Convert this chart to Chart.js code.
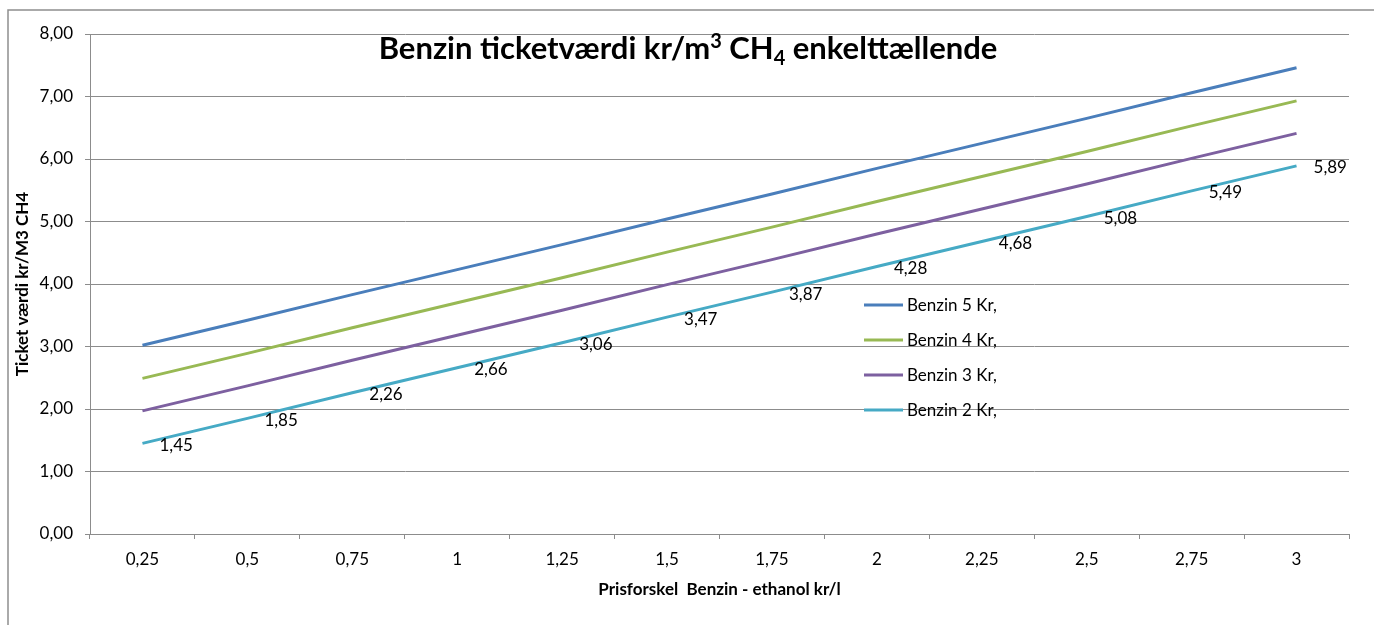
<!DOCTYPE html>
<html>
<head>
<meta charset="utf-8">
<script src="https://cdn.jsdelivr.net/npm/chart.js@4"></script>
<style>
    html, body { margin: 0; padding: 0; background: #fff; }
    #wrap { position: relative; width: 1374px; height: 625px; }
</style>
</head>
<body>
<div id="wrap"><canvas id="ticketChart"></canvas></div>
<script>
// Prisforskel Benzin - ethanol kr/l
const categories = ['0,25', '0,5', '0,75', '1', '1,25', '1,5', '1,75', '2', '2,25', '2,5', '2,75', '3'];

// Ticket værdi kr/M3 CH4 per series
const benzin5 = [3.02, 3.42, 3.83, 4.23, 4.63, 5.04, 5.44, 5.85, 6.25, 6.65, 7.06, 7.46];
const benzin4 = [2.49, 2.89, 3.30, 3.70, 4.10, 4.51, 4.91, 5.32, 5.72, 6.12, 6.53, 6.93];
const benzin3 = [1.97, 2.37, 2.78, 3.18, 3.58, 3.99, 4.39, 4.80, 5.20, 5.60, 6.01, 6.41];
const benzin2 = [1.45, 1.85, 2.26, 2.66, 3.06, 3.47, 3.87, 4.28, 4.68, 5.08, 5.49, 5.89];

const seriesNames = ['Benzin 5 Kr,', 'Benzin 4 Kr,', 'Benzin 3 Kr,', 'Benzin 2 Kr,'];
const seriesColors = ['#4a7ebb', '#98b954', '#7d60a0', '#46aac5'];

const yTicks = { min: 0, max: 8, step: 1 };

const FONT = 'Lato, "Open Sans", sans-serif';
const GRID = '#8c8c8c';

function comma(v, digits) {
    return v.toFixed(digits).replace('.', ',');
}

// frame + title drawn straight on the canvas (title sits inside the plot area)
const decorPlugin = {
    id: 'decor',
    beforeDraw(chart) {
        const ctx = chart.ctx;
        ctx.save();
        ctx.strokeStyle = '#8f8f8f';
        ctx.lineWidth = 1.5;
        ctx.beginPath();
        ctx.moveTo(8, chart.height);
        ctx.lineTo(8, 10);
        ctx.lineTo(chart.width, 10);
        ctx.stroke();
        ctx.restore();
    },
    afterDraw(chart) {
        const ctx = chart.ctx;
        ctx.save();
        ctx.fillStyle = '#000';
        ctx.textBaseline = 'alphabetic';
        const big = 'bold 31px ' + FONT;
        const small = 'bold 20px ' + FONT;
        const parts = [
            { t: 'Benzin ticketværdi kr/m', f: big, dy: 0 },
            { t: '3', f: small, dy: -11 },
            { t: ' CH', f: big, dy: 0 },
            { t: '4', f: small, dy: 6 },
            { t: ' enkelttællende', f: big, dy: 0 }
        ];
        let total = 0;
        parts.forEach(p => { ctx.font = p.f; p.w = ctx.measureText(p.t).width; total += p.w; });
        let x = 688 - total / 2;
        const y = 59;
        parts.forEach(p => {
            ctx.font = p.f;
            ctx.fillText(p.t, x, y + p.dy);
            x += p.w;
        });
        ctx.restore();
    }
};

// value labels on the Benzin 2 line + legend inside the plot
const labelPlugin = {
    id: 'labels',
    afterDatasetsDraw(chart) {
        const ctx = chart.ctx;
        ctx.save();
        ctx.font = '17px ' + FONT;
        ctx.fillStyle = '#000';
        ctx.textAlign = 'left';
        ctx.textBaseline = 'middle';
        const meta = chart.getDatasetMeta(3);
        meta.data.forEach((pt, i) => {
            ctx.fillText(comma(benzin2[i], 2), pt.x + 17, pt.y + 2);
        });

        // legend
        chart.data.datasets.forEach((ds, i) => {
            const y = 305 + i * 35;
            ctx.strokeStyle = ds.borderColor;
            ctx.lineWidth = 3;
            ctx.beginPath();
            ctx.moveTo(864, y);
            ctx.lineTo(903, y);
            ctx.stroke();
            ctx.fillText(ds.label, 907, y + 1);
        });
        ctx.restore();
    }
};

function initializeChart() {
    const ctx = document.getElementById('ticketChart').getContext('2d');
    const values = [benzin5, benzin4, benzin3, benzin2];
    new Chart(ctx, {
        type: 'line',
        data: {
            labels: categories,
            datasets: values.map((v, i) => ({
                label: seriesNames[i],
                data: v,
                borderColor: seriesColors[i],
                backgroundColor: seriesColors[i],
                borderWidth: 3,
                pointRadius: 0,
                tension: 0
            }))
        },
        options: {
            responsive: true,
            maintainAspectRatio: false,
            animation: false,
            layout: { padding: { left: 0, right: 25, top: 34, bottom: 0 } },
            plugins: {
                legend: { display: false },
                title: { display: false },
                tooltip: { enabled: false }
            },
            scales: {
                x: {
                    offset: true,
                    grid: { offset: true, drawOnChartArea: false, drawTicks: true, tickLength: 5, color: GRID },
                    border: { color: GRID, width: 1 },
                    ticks: { color: '#000', font: { family: FONT, size: 17 }, padding: 10, maxRotation: 0 },
                    title: {
                        display: true,
                        text: 'Prisforskel  Benzin - ethanol kr/l',
                        color: '#000',
                        font: { family: FONT, size: 17, weight: 'bold' },
                        padding: { top: 0, bottom: 25 }
                    },
                    afterFit(scale) { scale.height = 91; }
                },
                y: {
                    min: yTicks.min,
                    max: yTicks.max,
                    grid: { color: GRID, tickLength: 5 },
                    border: { color: GRID, width: 1 },
                    ticks: {
                        stepSize: yTicks.step,
                        color: '#000',
                        font: { family: FONT, size: 17 },
                        padding: 12,
                        callback: v => comma(v, 2)
                    },
                    title: {
                        display: true,
                        text: 'Ticket værdi kr/M3 CH4',
                        color: '#000',
                        font: { family: FONT, size: 17, weight: 'bold' },
                        padding: { top: 12, bottom: 0 }
                    },
                    afterFit(scale) { scale.width = 90; }
                }
            }
        },
        plugins: [decorPlugin, labelPlugin]
    });
}

document.addEventListener('DOMContentLoaded', initializeChart);
</script>
</body>
</html>
